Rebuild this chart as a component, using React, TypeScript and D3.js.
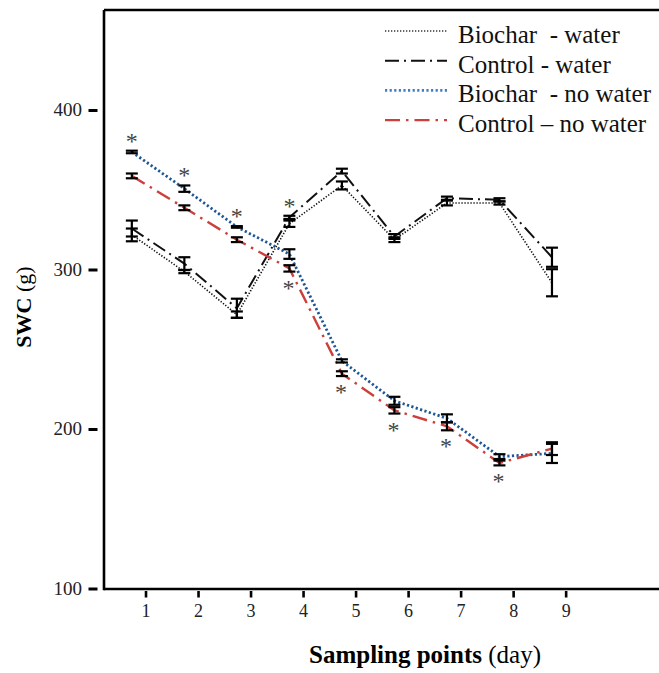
import React from "react";
import * as d3 from "d3";

// Sampling days
const days = [1, 2, 3, 4, 5, 6, 7, 8, 9];

// Soil water content (g), mean and error per day
const biocharWater = [322, 299, 272, 329, 353, 319, 342, 342, 292];
const biocharWaterErr = [4, 1, 2, 2, 2.5, 1.5, 1.5, 1, 8.5];
const controlWater = [326, 304, 276, 333, 362, 321, 345, 344, 308];
const controlWaterErr = [5, 4, 6, 1, 1.5, 1.5, 1, 1, 6];
const biocharDry = [374, 351, 327, 310, 243, 218, 207, 183, 185];
const biocharDryErr = [0.8, 2, 0.5, 3, 1, 2.5, 2.5, 1.5, 6];
const controlDry = [359, 339, 319, 301, 235, 212, 202, 179, 188];
const controlDryErr = [1.5, 1.5, 1.5, 2, 1.5, 2, 2.5, 1.5, 4];

// Days with a significant difference, marked above or below the curves
const sigAbove = [1, 2, 3, 4];
const sigBelow = [4, 5, 6, 7, 8];

const yTicks = [100, 200, 300, 400];

const W = 659;
const H = 673;
const FONT = "'Liberation Serif', 'Times New Roman', serif";

const x = d3.scaleLinear().domain([0.47, 11]).range([104, 657]);
const y = d3.scaleLinear().domain([100, 463]).range([589, 10]);
const TICK_SHIFT = 0.27;

type Series = {
  name: string;
  values: number[];
  errs: number[];
  color: string;
  legendColor: string;
  width: number;
  dash: string;
};

const series: Series[] = [
  { name: "Biochar  - water", values: biocharWater, errs: biocharWaterErr, color: "#111", legendColor: "#333", width: 1.6, dash: "1.3,1.7" },
  { name: "Control - water", values: controlWater, errs: controlWaterErr, color: "#111", legendColor: "#111", width: 2, dash: "14,5,2,5" },
  { name: "Biochar  - no water", values: biocharDry, errs: biocharDryErr, color: "#1d5796", legendColor: "#3f7fc4", width: 2.8, dash: "2.2,2.4" },
  { name: "Control \u2013 no water", values: controlDry, errs: controlDryErr, color: "#cc3f3b", legendColor: "#cc3f3b", width: 2.4, dash: "15,6,2.5,6" },
];

const line = d3
  .line<[number, number]>()
  .x((d) => x(d[0]))
  .y((d) => y(d[1]));

export default function App() {
  return (
    <div style={{ position: "absolute", left: 0, top: 0 }}>
      <svg width={W} height={H} style={{ display: "block", background: "#fff" }}>
        <rect width={W} height={H} fill="#fff" />

        {/* frame */}
        <g stroke="#000" strokeWidth={2.6} fill="none">
          <line x1={x.range()[0]} x2={x.range()[0]} y1={y.range()[1]} y2={y.range()[0] + 1.3} />
          <line x1={x.range()[0]} x2={W} y1={y.range()[1]} y2={y.range()[1]} />
          <line x1={x.range()[0]} x2={W} y1={y.range()[0]} y2={y.range()[0]} />
        </g>

        {/* y axis ticks and labels */}
        {yTicks.map((t) => (
          <g key={t}>
            <line x1={88.5} x2={97.5} y1={y(t)} y2={y(t)} stroke="#000" strokeWidth={3} />
            <text x={82} y={y(t) + 6} textAnchor="end" fontFamily={FONT} fontSize={19} fill="#222">
              {t}
            </text>
          </g>
        ))}

        {/* x axis ticks and labels */}
        {days.map((d) => (
          <g key={d}>
            <line x1={x(d + TICK_SHIFT)} x2={x(d + TICK_SHIFT)} y1={591} y2={597.5} stroke="#000" strokeWidth={2.6} />
            <text x={x(d + TICK_SHIFT)} y={617} textAnchor="middle" fontFamily={FONT} fontSize={18} fill="#222">
              {d}
            </text>
          </g>
        ))}

        {/* axis titles */}
        <text x={425} y={663} textAnchor="middle" fontFamily={FONT} fontSize={25} fill="#000">
          <tspan fontWeight="bold">Sampling points</tspan>
          <tspan> (day)</tspan>
        </text>
        <text transform="translate(31,307) rotate(-90)" textAnchor="middle" fontFamily={FONT} fontSize={22} fill="#000">
          <tspan fontWeight="bold">SWC</tspan>
          <tspan> (g)</tspan>
        </text>

        {/* series lines */}
        {series.map((s) => (
          <path
            key={s.name}
            d={line(days.map((d, i) => [d, s.values[i]] as [number, number])) || ""}
            fill="none"
            stroke={s.color}
            strokeWidth={s.width}
            strokeDasharray={s.dash}
          />
        ))}

        {/* error bars */}
        {series.map((s) =>
          days.map((d, i) => {
            const cx = x(d);
            const y0 = y(s.values[i] - s.errs[i]);
            const y1 = y(s.values[i] + s.errs[i]);
            return (
              <g key={s.name + d} stroke="#000" strokeWidth={2.2}>
                <line x1={cx} x2={cx} y1={y0} y2={y1} />
                <line x1={cx - 6} x2={cx + 6} y1={y0} y2={y0} />
                <line x1={cx - 6} x2={cx + 6} y1={y1} y2={y1} />
              </g>
            );
          })
        )}

        {/* significance marks */}
        {sigAbove.map((d) => {
          const i = d - 1;
          const top = d3.max(series, (s) => s.values[i] + s.errs[i]) as number;
          return (
            <text key={"a" + d} x={x(d)} y={y(top) - 13 + 11} textAnchor="middle" fontFamily={FONT} fontSize={24} fill="#444">
              *
            </text>
          );
        })}
        {sigBelow.map((d) => {
          const i = d - 1;
          const bottom = d3.min([series[2], series[3]], (s) => s.values[i] - s.errs[i]) as number;
          return (
            <text key={"b" + d} x={x(d) - 1} y={y(bottom) + 13 + 11} textAnchor="middle" fontFamily={FONT} fontSize={24} fill="#444">
              *
            </text>
          );
        })}

        {/* legend */}
        {series.map((s, k) => {
          const base = 43 + k * 29.7;
          return (
            <g key={"lg" + s.name}>
              <line
                x1={385}
                x2={447}
                y1={base - 12}
                y2={base - 12}
                stroke={s.legendColor}
                strokeWidth={s.width}
                strokeDasharray={s.dash}
              />
              <text x={458} y={base} fontFamily={FONT} fontSize={25} fill="#111" style={{ whiteSpace: "pre" }}>
                {s.name}
              </text>
            </g>
          );
        })}
      </svg>
    </div>
  );
}
